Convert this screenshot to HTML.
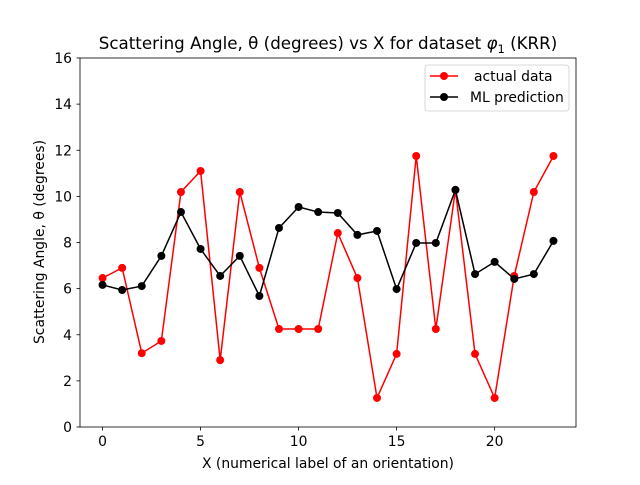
<!DOCTYPE html>
<html><head><meta charset="utf-8"><style>
body{margin:0;background:#fff}
svg{font-family:"DejaVu Sans","Liberation Sans",sans-serif}
</style></head><body>
<svg id="chart" width="640" height="480" viewBox="0 0 640 480">
<rect width="640" height="480" fill="#fff"/>
<text x="328" y="49" text-anchor="middle" font-size="16.7">Scattering Angle, θ (degrees) vs X for dataset <tspan font-style="italic">φ</tspan><tspan font-size="11.5" dy="4">1</tspan><tspan dy="-4"> (KRR)</tspan></text>
<g id="plot"></g>
<text x="328" y="468" text-anchor="middle" font-size="13.9">X (numerical label of an orientation)</text>
<text transform="translate(44,242) rotate(-90)" text-anchor="middle" font-size="13.9">Scattering Angle, θ (degrees)</text>
</svg>
<script>
const xs = [0,1,2,3,4,5,6,7,8,9,10,11,12,13,14,15,16,17,18,19,20,21,22,23];
const actual = [6.46,6.9,3.2,3.73,10.19,11.1,2.9,10.19,6.9,4.25,4.25,4.25,8.41,6.46,1.26,3.17,11.75,4.25,10.28,3.17,1.26,6.55,10.19,11.75];
const predicted = [6.16,5.94,6.11,7.42,9.32,7.72,6.55,7.42,5.68,8.63,9.54,9.32,9.28,8.33,8.5,5.98,7.98,7.98,10.28,6.63,7.16,6.42,6.63,8.07];
const xTicks = [0,5,10,15,20];
const yTicks = [0,2,4,6,8,10,12,14,16];

const L=80,R=576,T=58,B=427;
const xmin=-1.15,xmax=24.15,ymin=0,ymax=16;
const sx=v=>L+(v-xmin)/(xmax-xmin)*(R-L);
const sy=v=>B-(v-ymin)/(ymax-ymin)*(B-T);
const NS="http://www.w3.org/2000/svg";
const g=document.getElementById('plot');
function mk(tag,attrs,parent){const e=document.createElementNS(NS,tag);for(const k in attrs)e.setAttribute(k,attrs[k]);(parent||g).appendChild(e);return e;}

xTicks.forEach(t=>{
  const l=mk('line',{x1:sx(t),x2:sx(t),y1:B,y2:B+3.5,stroke:'#000','stroke-width':0.8});
  
  
  const tx=mk('text',{x:sx(t),y:B+19,'text-anchor':'middle','font-size':13.9});
  tx.textContent=t;
  
  
});
yTicks.forEach(t=>{
  const l=mk('line',{x1:L-3.5,x2:L,y1:sy(t),y2:sy(t),stroke:'#000','stroke-width':0.8});
  
  
  const tx=mk('text',{x:L-8,y:sy(t)+5,'text-anchor':'end','font-size':13.9});
  tx.textContent=t;
  
  
});

function series(vals,color,name){
  const pts=xs.map((x,i)=>sx(x)+','+sy(vals[i])).join(' ');
  const pl=mk('polyline',{points:pts,fill:'none',stroke:color,'stroke-width':1.5});
  
  
  xs.forEach((x,i)=>{
    const c=mk('circle',{cx:sx(x),cy:sy(vals[i]),r:4,fill:color});
    
    
  });
}
series(actual,'#ff0000','actual-data');
series(predicted,'#000000','ml-prediction');

const frame=mk('rect',{x:L,y:T,width:R-L,height:B-T,fill:'none',stroke:'#000','stroke-width':0.8});



const lg=mk('g',{});


mk('rect',{x:425,y:65,width:144,height:46,rx:3,fill:'#fff',stroke:'#ccc','stroke-width':0.8},lg);
[[' actual data','#ff0000',76],['ML prediction','#000',97]].forEach(([lab,c,y])=>{
  const e=mk('g',{},lg);
  
  
  mk('line',{x1:430,x2:458,y1:y,y2:y,stroke:c,'stroke-width':1.5},e);
  mk('circle',{cx:444,cy:y,r:4,fill:c},e);
  const t=mk('text',{x:lab.startsWith(' ')?474:470,y:y+5,'font-size':13.9},e);
  t.textContent=lab.trim();
});
</script>
</body></html>
